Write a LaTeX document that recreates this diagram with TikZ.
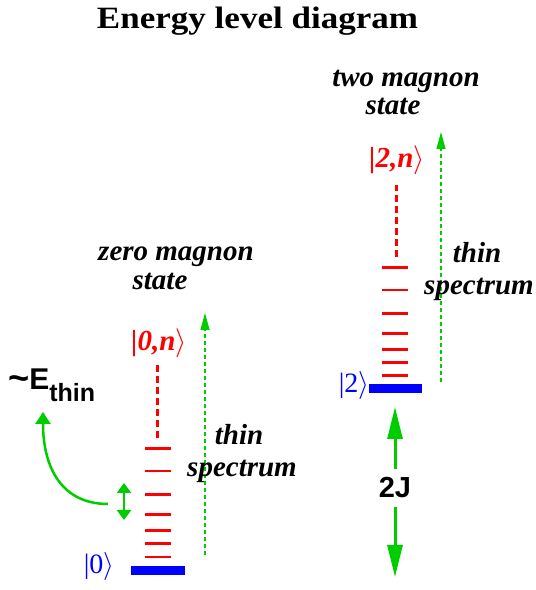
\documentclass[tikz,border=0pt]{standalone}
\usepackage{fontspec}
\usepackage{unicode-math}
\setmainfont{Liberation Serif}
\setsansfont{Liberation Sans}
\usetikzlibrary{arrows.meta,positioning}
\definecolor{lvlgreen}{RGB}{0,205,0}

\begin{document}
\begin{tikzpicture}[x=1pt,y=1pt,
  redlevel/.style={red,line width=2.6pt},
  groundbar/.style={blue,line width=9pt},
  upperdash/.style={red,line width=3pt,dash pattern=on 7pt off 4pt},
  thinarrow/.style={lvlgreen,line width=1.3pt,dash pattern=on 4pt off 3pt,-{Triangle[length=17pt,width=9pt]}},
  gaparrow/.style={lvlgreen,line width=3pt,-{Triangle[length=32pt,width=15pt]}},
  statelbl/.style={font=\fontsize{29}{32}\selectfont\bfseries\itshape,red,inner sep=0pt},
  kettext/.style={font=\fontsize{28}{28}\selectfont,blue,inner sep=0pt},
  caption/.style={font=\fontsize{29}{32}\selectfont\bfseries\itshape,anchor=base,inner sep=0pt}]
\useasboundingbox (0,0) rectangle (536,590);

% title
\node[font=\fontsize{31}{33}\selectfont\bfseries,anchor=base] (title) at (257.5,561) {\scalebox{1.13}[1]{Energy level diagram}};

% zero magnon column
\foreach \y in {141.7,119,95.7,75.7,59.3,46.3,33}
  \draw[redlevel] (145,\y) -- (171,\y);
\coordinate (bar0w) at (131,19.5);
\coordinate (bar0e) at (185,19.5);
\draw[groundbar] (bar0w) -- (bar0e);
\coordinate (top0a) at (157,152);
\coordinate (top0b) at (157,225);
\draw[upperdash] (top0a) -- (top0b);
\node[statelbl] (zeron) at (159,247) {|0,n$\rangle$};
\node[kettext] (zeroket) at (99,23.5) {|0$\rangle$};
\coordinate (spec0a) at (205,35);
\coordinate (spec0b) at (205,277);
\draw[thinarrow] (spec0a) -- (spec0b);
\node[caption] (zerocap) at (176,329) {zero magnon};
\node[caption] (zerostate) at (160,300) {state};
\node[caption] (thin0) at (239,145) {thin};
\node[caption] (spec0) at (242,113) {spectrum};

% level spacing
\coordinate (gapa) at (124,70);
\coordinate (gapb) at (124,107);
\draw[lvlgreen,line width=2.5pt,{Triangle[length=10pt,width=14pt]}-{Triangle[length=10pt,width=14pt]}] (gapa) -- (gapb);
\node[font=\fontsize{25}{25}\selectfont\sffamily\bfseries,anchor=base west,inner sep=0pt] (ethin) at (8,200) {\raisebox{-1pt}{\scalebox{1.45}{\textasciitilde}}{\fontsize{30}{30}\selectfont E}\raisebox{-12pt}{thin}};
\coordinate (curvea) at (108,86);
\coordinate (curveb) at (43,178);
\draw[lvlgreen,line width=2.5pt,-{Triangle[length=12pt,width=15pt]}] (curvea) .. controls (62,86) and (43,122) .. (curveb);

% two magnon column
\foreach \y in {322.7,300,276.7,256.7,240.3,227.3,214.3}
  \draw[redlevel] (382,\y) -- (408,\y);
\coordinate (bar2w) at (369,201.5);
\coordinate (bar2e) at (422,201.5);
\draw[groundbar] (bar2w) -- (bar2e);
\coordinate (top2a) at (396,333);
\coordinate (top2b) at (396,405);
\draw[upperdash] (top2a) -- (top2b);
\node[statelbl] (twon) at (397,430) {|2,n$\rangle$};
\node[kettext] (twoket) at (354,204) {|2$\rangle$};
\coordinate (spec2a) at (441,208);
\coordinate (spec2b) at (441,458);
\draw[thinarrow] (spec2a) -- (spec2b);
\node[caption] (twocap) at (406,503) {two magnon};
\node[caption] (twostate) at (393,475) {state};
\node[caption] (thin2) at (477,327) {thin};
\node[caption] (spec2) at (479,295) {spectrum};

% gap 2J
\node[font=\fontsize{29}{29}\selectfont\sffamily\bfseries,inner sep=9pt] (twoJ) at (395,102) {2J};
\coordinate (gaptop) at (395,183);
\coordinate (gapbot) at (395,13);
\draw[gaparrow] (twoJ.north) -- (gaptop);
\draw[gaparrow] (twoJ.south) -- (gapbot);
\end{tikzpicture}
\end{document}
